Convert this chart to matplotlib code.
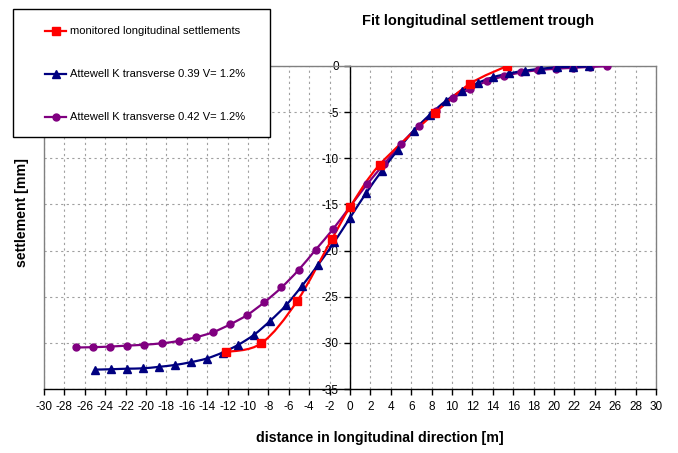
import numpy as np
import matplotlib
matplotlib.use("Agg")
import matplotlib.pyplot as plt
from matplotlib.path import Path
from matplotlib.patches import PathPatch, Rectangle
from matplotlib.lines import Line2D

plt.rcParams['font.family'] = ['Liberation Sans', 'DejaVu Sans']

# ---- data ----
red_label = "monitored longitudinal settlements"
red_x = [-12.2, -8.7, -5.2, -1.8, 0.0, 2.9, 8.3, 11.8, 15.4]
red_y = [-31.0, -30.05, -25.5, -18.8, -15.3, -10.7, -5.1, -1.9, 0.0]

blue_label = "Attewell K transverse 0.39 V= 1.2%"
blue_x = [-25.0, -23.44, -21.88, -20.31, -18.75, -17.19, -15.63, -14.06, -12.5, -10.94,
          -9.38, -7.81, -6.25, -4.69, -3.13, -1.56, 0.0, 1.56, 3.13, 4.69, 6.25, 7.81,
          9.38, 10.94, 12.5, 14.06, 15.63, 17.19, 18.75, 20.31, 21.88, 23.44]
blue_y = [-32.9, -32.86, -32.8, -32.76, -32.6, -32.4, -32.1, -31.7, -31.05, -30.2,
          -29.1, -27.6, -25.9, -23.8, -21.55, -19.1, -16.45, -13.8, -11.35, -9.1, -7.0,
          -5.3, -3.8, -2.7, -1.85, -1.2, -0.8, -0.5, -0.3, -0.14, -0.1, -0.04]

purple_label = "Attewell K transverse 0.42 V= 1.2%"
purple_x = [-26.88, -25.2, -23.52, -21.84, -20.16, -18.48, -16.8, -15.12, -13.44, -11.76,
            -10.08, -8.4, -6.72, -5.04, -3.36, -1.68, 0.0, 1.68, 3.36, 5.04, 6.72, 8.4,
            10.08, 11.76, 13.44, 15.12, 16.8, 18.48, 20.16, 21.84, 23.52, 25.2]
purple_y = [-30.5, -30.47, -30.4, -30.3, -30.2, -30.05, -29.8, -29.4, -28.85, -28.0,
            -26.98, -25.6, -24.0, -22.1, -19.9, -17.7, -15.25, -12.8, -10.6, -8.4, -6.5,
            -4.9, -3.52, -2.5, -1.65, -1.1, -0.7, -0.45, -0.3, -0.2, -0.1, -0.03]

x_ticks = list(range(-30, 31, 2))
y_ticks = list(range(-35, 1, 5))

title = "Fit longitudinal settlement trough"
xlabel = "distance in longitudinal direction [m]"
ylabel = "settlement [mm]"

W, H = 678, 453
fig = plt.figure(figsize=(W / 100, H / 100), dpi=100)
ax = fig.add_axes([44 / W, 1 - 389 / H, (656 - 44) / W, (389 - 66) / H])
ax.set_xlim(-30, 30)
ax.set_ylim(-35, 0)


def smooth_path(xs, ys):
    pts = np.column_stack([xs, ys]).astype(float)
    n = len(pts)
    verts = [pts[0]]
    codes = [Path.MOVETO]
    for i in range(n - 1):
        p0 = pts[i - 1] if i > 0 else pts[i]
        p1 = pts[i]
        p2 = pts[i + 1]
        p3 = pts[i + 2] if i + 2 < n else pts[i + 1]
        c1 = p1 + (p2 - p0) / 6.0
        c2 = p2 - (p3 - p1) / 6.0
        verts += [c1, c2, p2]
        codes += [Path.CURVE4] * 3
    return Path(verts, codes)


series = [
    (purple_x, purple_y, '#800080', 'o', 5.0),
    (blue_x, blue_y, '#000080', '^', 5.5),
    (red_x, red_y, '#FF0000', 's', 6.0),
]
for xs, ys, col, mk, ms in series:
    ax.add_patch(PathPatch(smooth_path(xs, ys), facecolor='none', edgecolor=col,
                           lw=1.6, zorder=3))
    ax.plot(xs, ys, linestyle='none', marker=mk, color=col, markersize=ms, zorder=4)

# grid
ax.set_xticks(x_ticks)
ax.set_yticks(y_ticks)
ax.grid(True, color='#A0A0A0', linestyle=(0, (2, 3)), lw=0.8)
ax.set_axisbelow(True)

# spines
ax.spines['left'].set_position(('data', 0))
ax.spines['left'].set_color('black')
ax.spines['left'].set_linewidth(1.0)
ax.spines['bottom'].set_color('black')
ax.spines['bottom'].set_linewidth(1.0)
for s in ['top', 'right']:
    ax.spines[s].set_color('#808080')
    ax.spines[s].set_linewidth(1.0)
ax.axvline(-30, color='#808080', lw=1.0, zorder=1, clip_on=False)

ax.tick_params(axis='both', direction='out', length=4, width=1.0, labelsize=8.5,
               colors='black')
ax.tick_params(axis='x', pad=5)
ax.tick_params(axis='y', pad=4)
ax.set_xticklabels([str(t) for t in x_ticks])
ax.set_yticklabels([str(t) for t in y_ticks])

fig.text(478 / W, 1 - 21 / H, title, ha='center', va='center', fontsize=10.5,
         fontweight='bold')
fig.text(380 / W, 1 - 438 / H, xlabel, ha='center', va='center', fontsize=10.2,
         fontweight='bold')
fig.text(22 / W, 1 - 213 / H, ylabel, ha='center', va='center', fontsize=10.2,
         fontweight='bold', rotation=90)

# legend (manual)
fig.add_artist(Rectangle((13 / W, 1 - 137 / H), 257 / W, 128 / H,
                         transform=fig.transFigure, facecolor='white',
                         edgecolor='black', lw=1.0, zorder=10))
leg = [(red_label, '#FF0000', 's', 6.0, 31),
       (blue_label, '#000080', '^', 5.5, 74),
       (purple_label, '#800080', 'o', 5.0, 117)]
for lab, col, mk, ms, yy in leg:
    yf = 1 - yy / H
    fig.add_artist(Line2D([45 / W, 66 / W], [yf, yf], transform=fig.transFigure,
                          color=col, lw=1.6, zorder=11))
    fig.add_artist(Line2D([55.5 / W], [yf], transform=fig.transFigure, color=col,
                          marker=mk, markersize=ms, linestyle='none', zorder=12))
    fig.text(70 / W, yf, lab, ha='left', va='center', fontsize=8.0, zorder=12)

fig.savefig('out.png', dpi=100)
